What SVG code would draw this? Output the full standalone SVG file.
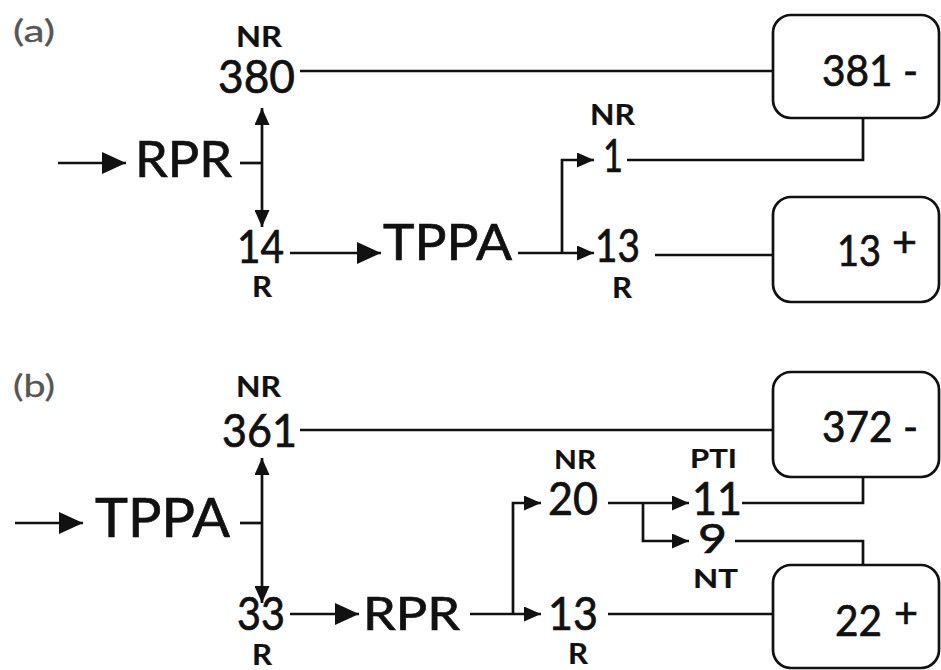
<svg xmlns="http://www.w3.org/2000/svg" width="941" height="670" viewBox="0 0 941 670">
<style>
.t{font-family:Lato,"Noto Sans","Liberation Sans",sans-serif;fill:#111;stroke:#111;stroke-width:0.7}
.big{font-size:50px}
.num{font-size:46px}
.lbl{font-size:29px;font-weight:bold;stroke-width:0.2}
.box{font-size:42px}
.pan{font-size:31px;fill:#555;stroke:#555;stroke-width:0.3}
.ln{fill:none;stroke:#111;stroke-width:2.7}
.bx{fill:#fff;stroke:#111;stroke-width:2.7}
</style>
<defs>
<marker id="ab" viewBox="0 0 24 22" refX="24" refY="11" markerWidth="24" markerHeight="22" markerUnits="userSpaceOnUse" orient="auto"><path d="M0,0 L24,11 L0,22 Z" fill="#111"/></marker>
<marker id="as" viewBox="0 0 17 15" refX="17" refY="7.5" markerWidth="17" markerHeight="15" markerUnits="userSpaceOnUse" orient="auto-start-reverse"><path d="M0,0 L17,7.5 L0,15 Z" fill="#111"/></marker>
</defs>
<g id="connectors">
<line class="ln" x1="300" y1="71" x2="773" y2="71"/>
<line class="ln" x1="262" y1="108" x2="262" y2="227" marker-start="url(#as)" marker-end="url(#as)"/>
<line class="ln" x1="240" y1="163" x2="262" y2="163"/>
<line class="ln" x1="58" y1="163" x2="126" y2="163" marker-end="url(#ab)"/>
<line class="ln" x1="290" y1="253" x2="381" y2="253" marker-end="url(#ab)"/>
<line class="ln" x1="518" y1="253" x2="594" y2="253" marker-end="url(#as)"/>
<path class="ln" d="M562,253 V160 H594" marker-end="url(#as)"/>
<path class="ln" d="M627,160 H863 V118"/>
<line class="ln" x1="655" y1="255" x2="773" y2="255"/>
<line class="ln" x1="300" y1="430" x2="773" y2="430"/>
<line class="ln" x1="262" y1="458" x2="262" y2="603" marker-start="url(#as)" marker-end="url(#as)"/>
<line class="ln" x1="240" y1="523" x2="262" y2="523"/>
<line class="ln" x1="15" y1="523" x2="83" y2="523" marker-end="url(#ab)"/>
<line class="ln" x1="290" y1="614" x2="359" y2="614" marker-end="url(#ab)"/>
<line class="ln" x1="470" y1="614" x2="541" y2="614" marker-end="url(#as)"/>
<path class="ln" d="M513,614 V503 H541" marker-end="url(#as)"/>
<line class="ln" x1="608" y1="503" x2="689" y2="503" marker-end="url(#as)"/>
<path class="ln" d="M643,503 V541 H689" marker-end="url(#as)"/>
<path class="ln" d="M742,503 H863 V477"/>
<path class="ln" d="M735,541 H863 V565"/>
<line class="ln" x1="608" y1="614" x2="773" y2="614"/>
</g>
<g id="panel-a">
<text class="t pan" x="13" y="42" textLength="42" lengthAdjust="spacingAndGlyphs">(a)</text>
</g>
<g id="a-nr380">
<text class="t lbl" x="236" y="47" textLength="46" lengthAdjust="spacingAndGlyphs">NR</text>
<text class="t num" x="218" y="93" textLength="77" lengthAdjust="spacingAndGlyphs">380</text>
</g>
<g id="a-rpr"><text class="t big" x="135" y="177" textLength="97" lengthAdjust="spacingAndGlyphs">RPR</text></g>
<g id="a-r14">
<text class="t num" x="237" y="263" textLength="47" lengthAdjust="spacingAndGlyphs">14</text>
<text class="t lbl" x="252" y="297" textLength="20" lengthAdjust="spacingAndGlyphs">R</text>
</g>
<g id="a-tppa"><text class="t big" x="383" y="260" textLength="129" lengthAdjust="spacingAndGlyphs">TPPA</text></g>
<g id="a-nr1">
<text class="t lbl" x="590" y="125" textLength="45" lengthAdjust="spacingAndGlyphs">NR</text>
<text class="t num" x="603" y="172" textLength="20" lengthAdjust="spacingAndGlyphs">1</text>
</g>
<g id="a-r13">
<text class="t num" x="595" y="262" textLength="45" lengthAdjust="spacingAndGlyphs">13</text>
<text class="t lbl" x="612" y="298" textLength="20" lengthAdjust="spacingAndGlyphs">R</text>
</g>
<g id="a-box381">
<rect class="bx" x="773" y="15" width="166" height="103" rx="18"/>
<text class="t box" x="822" y="86" textLength="96" lengthAdjust="spacingAndGlyphs">381 -</text>
</g>
<g id="a-box13">
<rect class="bx" x="773" y="197" width="166" height="105" rx="18"/>
<text class="t box" x="837" y="266" textLength="44" lengthAdjust="spacingAndGlyphs">13</text>
<text class="t box" x="892" y="257" textLength="25" lengthAdjust="spacingAndGlyphs">+</text>
</g>
<g id="panel-b">
<text class="t pan" x="13" y="397" textLength="42" lengthAdjust="spacingAndGlyphs">(b)</text>
</g>
<g id="b-nr361">
<text class="t lbl" x="236" y="397" textLength="45" lengthAdjust="spacingAndGlyphs">NR</text>
<text class="t num" x="222" y="447" textLength="75" lengthAdjust="spacingAndGlyphs">361</text>
</g>
<g id="b-tppa"><text class="t big" x="95" y="537" textLength="135" lengthAdjust="spacingAndGlyphs" style="font-size:54px">TPPA</text></g>
<g id="b-r33">
<text class="t num" x="237" y="630" textLength="48" lengthAdjust="spacingAndGlyphs">33</text>
<text class="t lbl" x="252" y="665" textLength="20" lengthAdjust="spacingAndGlyphs">R</text>
</g>
<g id="b-rpr"><text class="t big" x="363" y="630" textLength="97" lengthAdjust="spacingAndGlyphs" style="font-size:46px">RPR</text></g>
<g id="b-nr20">
<text class="t lbl" x="554" y="469" textLength="42" lengthAdjust="spacingAndGlyphs" style="font-size:26px">NR</text>
<text class="t num" x="548" y="515" textLength="50" lengthAdjust="spacingAndGlyphs">20</text>
</g>
<g id="b-r13">
<text class="t num" x="548" y="630" textLength="50" lengthAdjust="spacingAndGlyphs">13</text>
<text class="t lbl" x="568" y="664" textLength="20" lengthAdjust="spacingAndGlyphs">R</text>
</g>
<g id="b-pti11">
<text class="t lbl" x="690" y="468" textLength="47" lengthAdjust="spacingAndGlyphs" style="font-size:27px">PTI</text>
<text class="t num" x="692" y="515" textLength="50" lengthAdjust="spacingAndGlyphs">11</text>
</g>
<g id="b-nt9">
<text class="t num" x="698" y="553" textLength="29" lengthAdjust="spacingAndGlyphs" style="font-size:40px">9</text>
<text class="t lbl" x="693" y="588" textLength="45" lengthAdjust="spacingAndGlyphs" style="font-size:27px">NT</text>
</g>
<g id="b-box372">
<rect class="bx" x="773" y="372" width="166" height="105" rx="18"/>
<text class="t box" x="822" y="442" textLength="96" lengthAdjust="spacingAndGlyphs">372 -</text>
</g>
<g id="b-box22">
<rect class="bx" x="773" y="565" width="166" height="103" rx="18"/>
<text class="t box" x="835" y="636" textLength="47" lengthAdjust="spacingAndGlyphs">22</text>
<text class="t box" x="894" y="628" textLength="24" lengthAdjust="spacingAndGlyphs">+</text>
</g>
</svg>
